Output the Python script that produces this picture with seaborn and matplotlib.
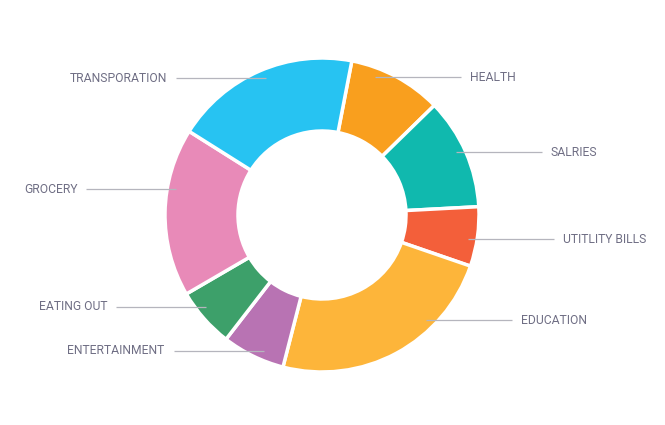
import numpy as np
import matplotlib
matplotlib.use("Agg")
import matplotlib.pyplot as plt
import seaborn as sns

# ---- data ----
categories = ["HEALTH", "SALRIES", "UTITLITY BILLS", "EDUCATION",
              "ENTERTAINMENT", "EATING OUT", "GROCERY", "TRANSPORATION"]
values = [9.65, 11.46, 6.12, 23.72, 6.47, 6.14, 17.33, 19.10]
colors = ["#F99F1E", "#10B9AE", "#F35F3A", "#FDB53A",
          "#B873B3", "#3DA06A", "#E88AB8", "#27C3F2"]

# ---- layout (pixels, image coordinates) ----
W, H = 665, 425
cx, cy = 322, 215
R_out, R_in = 157, 84
label_y = [77, 152, 239, 320, 351, 307, 189, 78]
label_side = [1, 1, 1, 1, -1, -1, -1, -1]
r_line = 148
line_len = {1: 86, -1: 90}

sns.set_theme(style="white")
plt.rcParams['font.family'] = ['Roboto', 'DejaVu Sans']

fig = plt.figure(figsize=(W / 100, H / 100), dpi=100)
ax = fig.add_axes([0, 0, 1, 1])

ax.pie(values, colors=colors, startangle=79.04, counterclock=False,
       radius=R_out, center=(cx, H - cy),
       wedgeprops=dict(width=R_out - R_in, edgecolor="white", linewidth=2.5))

for name, ly, side in zip(categories, label_y, label_side):
    dy = ly - cy
    dx = np.sqrt(max(r_line ** 2 - dy ** 2, 0))
    x0 = cx + side * dx
    x1 = x0 + side * line_len[side]
    y = H - ly
    ax.plot([x0, x1], [y, y], color="#B5B5BD", lw=0.9, solid_capstyle="butt")
    ax.text(x1 + side * 9, y, name, ha="left" if side > 0 else "right",
            va="center", fontsize=8.7, color="#6F6E84")

ax.set_xlim(0, W)
ax.set_ylim(0, H)
ax.set_aspect("equal")
ax.axis("off")
fig.savefig("out.png", dpi=100, facecolor="white")
